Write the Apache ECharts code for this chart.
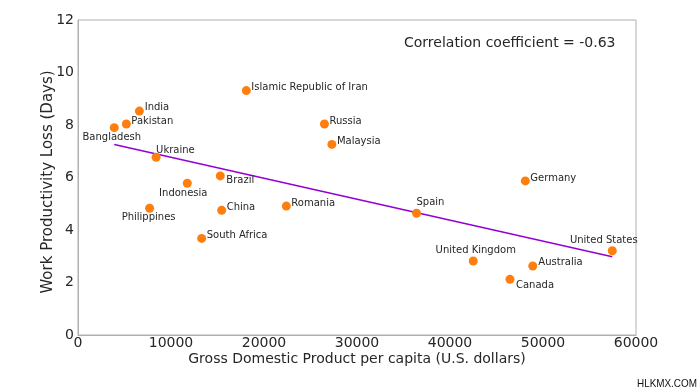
<!DOCTYPE html>
<html>
<head>
<meta charset="utf-8">
<script src="https://cdn.jsdelivr.net/npm/echarts@6/dist/echarts.min.js"></script>
<style>html,body{margin:0;padding:0;background:#fff}#c{width:700px;height:392px}</style>
</head>
<body>
<div id="c"></div>
<script>
// ---- data ----
var countries = ["Bangladesh","Pakistan","India","Ukraine","Indonesia","Philippines","Brazil","China","South Africa","Islamic Republic of Iran","Russia","Malaysia","Romania","Spain","Germany","United Kingdom","Canada","Australia","United States"];
var gdp  = [3900, 5200, 6600, 8400, 11750, 7700, 15300, 15450, 13300, 18100, 26500, 27300, 22400, 36400, 48100, 42500, 46450, 48900, 57450];
var loss = [7.90, 8.04, 8.53, 6.77, 5.78, 4.83, 6.06, 4.75, 3.68, 9.31, 8.04, 7.26, 4.91, 4.64, 5.87, 2.82, 2.12, 2.63, 3.21];
var trendX = [3900, 57450];
var trendY = [7.26, 2.98];
var xTicks = [0, 10000, 20000, 30000, 40000, 50000, 60000];
var yTicks = [0, 2, 4, 6, 8, 10, 12];
var corrText = "Correlation coefficient = -0.63";

// ---- label placement (style, not data) ----
var labelPlace = {
  "Bangladesh": ["center", -2.5, 10],
  "Pakistan": ["left", 5, -2.3],
  "India": ["left", 5.3, -3.3],
  "Ukraine": ["left", 0, -7],
  "Indonesia": ["center", -4, 10],
  "Philippines": ["center", -1, 9.4],
  "Brazil": ["left", 6, 4],
  "China": ["left", 5, -3],
  "South Africa": ["left", 5, -3],
  "Islamic Republic of Iran": ["left", 5, -3.4],
  "Russia": ["left", 5, -3],
  "Malaysia": ["left", 5, -2.6],
  "Romania": ["left", 5, -2.7],
  "Spain": ["left", 0, -10.6],
  "Germany": ["left", 5, -2.7],
  "United Kingdom": ["center", 2.5, -10.7],
  "Canada": ["left", 6, 5.7],
  "Australia": ["left", 5.6, -3.3],
  "United States": ["center", -8.5, -10.7]
};

var font = "DejaVu Sans";
var pts = countries.map(function (c, i) {
  var p = labelPlace[c];
  return {
    name: c,
    value: [gdp[i], loss[i]],
    label: {
      show: true, formatter: c, position: "inside",
      align: p[0], verticalAlign: "middle", offset: [p[1], p[2]],
      fontFamily: font, fontSize: 10, color: "#262626"
    }
  };
});
var trend = trendX.map(function (x, i) { return [x, trendY[i]]; });

var chart = echarts.init(document.getElementById("c"), null, {renderer: "canvas"});
chart.setOption({
  animation: false,
  backgroundColor: "#fff",
  grid: {left: 78, right: 64, top: 20, bottom: 57, show: true, borderColor: "#b0b0b0", borderWidth: 1},
  xAxis: {
    type: "value", min: xTicks[0], max: xTicks[xTicks.length - 1], interval: xTicks[1] - xTicks[0],
    name: "Gross Domestic Product per capita (U.S. dollars)", nameLocation: "middle", nameGap: 17,
    nameMoveOverlap: false,
    nameTextStyle: {fontFamily: font, fontSize: 14, color: "#262626"},
    axisLine: {show: true, lineStyle: {color: "#b0b0b0"}},
    axisTick: {show: false}, splitLine: {show: false},
    axisLabel: {margin: 1, fontFamily: font, fontSize: 14, color: "#262626", formatter: function (v) { return String(v); }}
  },
  yAxis: {
    type: "value", min: yTicks[0], max: yTicks[yTicks.length - 1], interval: yTicks[1] - yTicks[0],
    name: "Work Productivity Loss (Days)", nameLocation: "middle", nameGap: 22,
    nameMoveOverlap: false,
    nameTextStyle: {fontFamily: font, fontSize: 15, color: "#262626", padding: [0, 9, 0, 0]},
    axisLine: {show: true, lineStyle: {color: "#b0b0b0"}},
    axisTick: {show: false}, splitLine: {show: false},
    axisLabel: {margin: 4, fontFamily: font, fontSize: 14, color: "#262626"}
  },
  series: [
    {
      type: "line", data: trend, showSymbol: false, symbol: "none",
      lineStyle: {color: "#9400d3", width: 1.5}, z: 2, silent: true
    },
    {
      type: "scatter", data: pts, symbolSize: 9,
      itemStyle: {color: "#ff7f0e", opacity: 1}, z: 3
    }
  ],
  graphic: [
    {type: "text", left: 404, top: 36, style: {text: corrText, font: "14px 'DejaVu Sans'", fill: "#262626"}},
    {type: "text", left: 637, top: 378, scaleX: 0.9, style: {text: "HLKMX.COM", font: "11px 'Liberation Sans'", fill: "#111"}}
  ]
});
</script>
</body>
</html>
